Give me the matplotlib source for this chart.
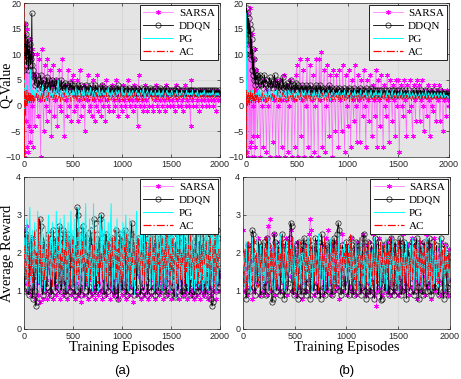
import matplotlib.pyplot as plt
import numpy as np

# episode grids: the Q-value panels are sampled more densely in the first 100 episodes
ep_top = np.r_[np.arange(0, 100, 5), np.arange(100, 2001, 10)]
ep_bot = np.arange(0, 2001, 10)

series_names = ["SARSA", "DDQN", "PG", "AC"]

# ---- (a) Q-value ----
sarsa_q_a = [-10, 14, -9, 16, -3, 12, -8, 15, 2, -9, 10, -4, 13, -7, 9, -5, 11, 0, -8, 10,
             6, -4, 2, 10, -2, 9, 1, -10, 11, 3, -5, 8, 0, -3, 9, 2, -1, 7, -6, 4,
             8, -2, 1, 5, -4, 3, 7, 0, -1, 9, 2, -6, 4, 1, -2, 7, 0, 3, -3, 5,
             6, -1, 2, 0, 5, -3, 1, 7, -2, 3, 0, 4, -5, 2, 1, 6, -1, 0, 3, -2,
             5, 1, -3, 2, 0, 6, -1, 3, 1, -2, 4, 0, 2, -3, 5, 1, 0, -1, 3, 2,
             4, -1, 1, 0, 5, 2, -2, 1, 3, 0, -1, 4, 1, 0, 2, -2, 5, 1, 0, 3,
             1, -1, 4, 0, 2, 1, -4, 6, 0, 2, 1, -1, 3, 0, 4, 1, -1, 2, 0, 3,
             2, 0, -1, 3, 1, 4, 0, 2, -1, 1, 3, 0, 2, 1, -1, 4, 0, 2, 1, 0,
             3, 1, 0, 2, -1, 4, 1, 0, 2, 3, 0, 1, -1, 2, 4, 0, 1, 3, 0, 2,
             -4, 5, 1, 0, 2, 3, 0, 1, 2, -1, 3, 1, 0, 2, 1, 3, 0, 2, 1, 0,
             2, 1, 3, 0, 1, 2, -1, 3, 1, 2, 1]
ddqn_q_a = [7, 11, 16, 9, 14, 8, 12, 10, 13, 7, 11, 9, 12, 8, 10, 9, 18, 8, 7, 6,
            5.5, 4, 6, 4.5, 3.5, 5, 4, 6, 3.5, 4.5, 5, 3, 4, 5.5, 3.5, 4, 5, 3, 4.5, 5,
            3.5, 4.5, 3, 5, 4, 3, 4.5, 3.5, 5, 3, 4, 3.5, 4.5, 3, 4, 3.5, 3, 4.5, 3.5, 4,
            3, 4, 2.5, 3.5, 3, 4, 2.5, 3.5, 4, 3, 2.5, 3.5, 3, 4, 3, 2.5, 3.5, 3, 4, 2.5,
            3.5, 3, 2.5, 4, 3, 3.5, 2.5, 3, 3.5, 2.5, 4, 3, 2.5, 3.5, 3, 2.5, 3, 3.5, 2.5, 3,
            3.5, 2.5, 3, 3.5, 2.5, 3, 4, 2.5, 3, 3.5, 2.5, 3, 2.5, 3.5, 3, 2.5, 3, 3.5, 2.5, 3,
            2.5, 3.5, 3, 2.5, 3, 3.5, 2.5, 3, 2.5, 3.5, 3, 2.5, 3, 2.5, 3.5, 3, 2.5, 3, 2.5, 3.5,
            3, 2.5, 3, 2.5, 3.5, 2.5, 3, 2.5, 3, 3.5, 2.5, 3, 2.5, 3, 2.5, 3.5, 3, 2.5, 3, 2.5,
            3, 2.5, 3, 2.5, 3, 2.5, 3.5, 2.5, 3, 2.5, 3, 2.5, 3, 2.5, 2.5, 3, 2.5, 3, 2.5, 3,
            2.5, 3, 2.5, 3, 2.5, 3, 2.5, 2.5, 3, 2.5, 3, 2.5, 3, 2.5, 3, 2.5, 3, 2.5, 3, 2.5,
            3, 2.5, 3, 2.5, 3, 2.5, 3, 2.5, 2.5, 3, 2.5]
pg_q_a = [3, -1, 5, 1, 4, 0, 3, 1, 2, 0.5, 2, 1, 3, 4, 7, 0.5, 3, 1, 3, 1,
          3, 1.5, 2.5, 3.5, 1, 2, 3, 1.5, 2.5, 4, 1.5, 2, 3, 1, 2.5, 3.5, 1.5, 2, 3, 1.5,
          2.5, 3, 1.5, 2, 3.5, 5, 1.5, 2.5, 3, 2, 1.5, 3, 2.5, 2, 3.5, 1.5, 2.5, 3, 2, 1.5,
          3, 2, 2.5, 3.5, 1.5, 2, 3, 2.5, 1.5, 3, 2, 3.5, 2, 1.5, 2.5, 3, 2, 2.5, 3.5, 1.5,
          2.5, 3, 2, 1.5, 3, 2.5, 2, 3.5, 1.5, 2.5, 3, 2, 2.5, 1.5, 3, 2, 3.5, 2, 2.5, 1.5,
          3, 2, 2.5, 1.5, 3, 2, 2.5, 3, 1.5, 2, 3.5, 2, 2.5, 1.5, 3, 2, 2.5, 2, 3, 1.5,
          2.5, 3, 2, 1.5, 2.5, 3, 2, 2.5, 1.5, 3, 2, 2.5, 3.5, 1.5, 2, 2.5, 3, 2, 1.5, 2.5,
          3, 2, 2.5, 1.5, 3, 2, 2.5, 2, 3, 1.5, 2.5, 2, 3, 2, 1.5, 2.5, 3, 2, 2.5, 1.5,
          2.5, 3, 2, 1.5, 2.5, 2, 3, 2, 1.5, 2.5, 2, 3, 2, 2.5, 1.5, 2, 3, 2, 2.5, 2,
          2.5, 2, 3, 1.5, 2, 2.5, 2, 3, 2, 1.5, 2.5, 2, 2.5, 2, 3, 2, 1.5, 2.5, 2, 2.5,
          2, 2.5, 2, 3, 2, 1.5, 2.5, 2, 2.5, 2, 2]
ac_q_a = [20, -10, 3, -2, 2, 0, 3, 0, 2, 1, 2.5, 0.5, 2, 1, 2.5, 0.5, 2, 1, 2, 0.5,
          2, 0.8, 1.5, 2.5, 1, 2, 0.7, 1.5, 2.5, 1, 3, 0.8, 1.5, 2, 1, 2.5, 0.7, 1.5, 2, 1,
          1.5, 2.5, 0.8, 2, 1, 1.5, 2.5, 0.7, 2, 1.5, 1, 2.5, 0.8, 2, 1.5, 1, 2, 2.5, 0.8, 1.5,
          2, 1, 1.5, 2.5, 0.8, 2, 1.5, 1, 2.5, 1.5, 0.8, 2, 1, 2.5, 1.5, 1, 2, 0.8, 1.5, 2.5,
          1, 2, 1.5, 0.8, 2.5, 1.5, 1, 2, 1.5, 2.5, 1, 1.5, 2, 0.8, 2.5, 1.5, 1, 2, 1.5, 1,
          2, 1.5, 1, 2.5, 1.5, 1, 2, 1.5, 0.8, 2.5, 1.5, 1, 2, 1.5, 1, 2.5, 1.5, 1, 2, 1.5,
          1, 2, 1.5, 2.5, 1, 1.5, 2, 1, 1.5, 2.5, 1.5, 1, 2, 1.5, 1, 2, 2.5, 1.2, 1.5, 2,
          1.5, 1, 2, 1.5, 2.5, 1.2, 1.5, 2, 1, 1.5, 2, 1.5, 1.2, 2.5, 1.5, 1, 2, 1.5, 1.2, 2,
          1.5, 2, 1.2, 1.5, 2.5, 1.5, 1.2, 2, 1.5, 1.2, 2, 1.5, 2.5, 1.2, 1.5, 2, 1.2, 1.5, 2, 1.5,
          1.2, 2, 1.5, 1.2, 2.2, 1.5, 1.3, 2, 1.5, 1.2, 2, 1.5, 1.3, 2.2, 1.5, 1.2, 2, 1.5, 1.3, 2,
          1.5, 1.3, 2, 1.5, 1.3, 2, 1.5, 1.4, 1.8, 1.5, 1.6]

# ---- (b) Q-value ----
sarsa_q_b = [-10, 18, -9, 15, -10, 12, 2, -8, 19, -7, 10, -10, 14, 0, -6, 9, -10, 11, -8, 7,
             3, -6, 1, 4, -10, 2, 0, -8, 5, 1, -9, 3, 0, -10, 4, 2, -7, 1, 5, -10,
             4, 0, -10, 5, 1, -8, 2, 6, -10, 1, 4, -9, 0, 5, 2, -10, 3, 1, -8, 6,
             8, -10, 2, 9, -6, 1, 7, -10, 3, 0, 9, -8, 2, 8, -10, 1, 6, -9, 0, 9,
             2, -10, 9, 1, 10.5, -8, 3, 7, -9, 0, 8, 2, -6, 6, 1, -10, 7, 2, -5, 6,
             3, -8, 7, 1, -5, 8, 2, -9, 6, 0, -4, 7, 2, -8, 5, 1, -3, 8, 0, -7,
             6, 1, -7, 5, 2, -2, 7, 0, -8, 5, 1, -3, 6, 2, -6, 4, 1, -2, 7, -8,
             5, 1, -4, 6, 2, -8, 4, 0, -2, 6, 1, -7, 5, 2, -3, 4, 1, -6, 5, 0,
             5, -9, 2, 4, 0, -2, 5, 1, -6, 4, 2, -1, 5, 0, -6, 4, 1, -3, 5, 2,
             4, -3, 1, 5, 0, -5, 3, 2, -2, 4, 1, -6, 3, 0, -1, 4, 2, -3, 3, 1,
             4, -3, 2, 3, -5, 1, 2, -2, 3, 1, 0]
ddqn_q_b = [10, 19, 15, 18, 12, 17, 14, 16, 10, 15, 9, 13, 7, 11, 6, 9, 5, 7, 4, 6,
            5, 6, 4, 5.5, 6, 4, 5, 3.5, 6, 4.5, 5, 4, 3.5, 5.5, 4, 5, 3.5, 4.5, 6, 4,
            3.5, 5, 3, 4.5, 4, 3, 5.5, 3.5, 4, 3, 4.5, 3.5, 3, 4, 5, 3, 3.5, 4, 3, 4.5,
            3, 4, 2.5, 3.5, 3, 4, 2.5, 3.5, 3, 4, 3, 2.5, 3.5, 4, 3, 2.5, 3, 3.5, 2.5, 4,
            2.5, 3.5, 3, 4, 2.5, 3, 3.5, 2.5, 3, 3.5, 2.5, 3, 4, 2.5, 3, 3.5, 2.5, 3, 2.5, 3.5,
            2.5, 3, 3.5, 2, 3, 2.5, 3.5, 2.5, 3, 2, 3, 3.5, 2.5, 3, 2, 2.5, 3.5, 2.5, 3, 2.5,
            3, 2.5, 3.5, 2, 3, 2.5, 3, 2.5, 3.5, 2, 2.5, 3, 2.5, 3.5, 2, 3, 2.5, 3, 2, 3,
            2.5, 3, 2, 3, 2.5, 2, 3, 2.5, 3, 2, 2.5, 3, 2, 2.5, 3, 2, 3, 2.5, 2, 3,
            2, 3, 2.5, 2, 3, 2.5, 2, 3, 2.5, 2, 2.5, 3, 2, 2.5, 2, 3, 2.5, 2, 3, 2.5,
            2, 2.5, 3, 2, 2.5, 2, 3, 2, 2.5, 2, 3, 2.5, 2, 2.5, 2, 3, 2, 2.5, 2, 2.5,
            2, 3, 2, 2.5, 2, 2.5, 2, 2.5, 2, 2.5, 2]
pg_q_b = [18, 2, 5, 1, 3, 0.5, 2.5, 1, 3, 1, 2.5, 0.5, 3, 1, 2.5, 1, 3, 1, 2.5, 1,
          2.5, 1, 3, 1.5, 2, 3, 1, 2.5, 1.5, 3, 2, 1, 2.5, 3.5, 1.5, 2, 1, 3, 2.5, 1.5,
          3, 1.5, 2, 2.5, 1, 3, 2, 1.5, 2.5, 3, 1, 2, 3, 1.5, 2.5, 1, 3, 2, 1.5, 2.5,
          2, 3, 1.5, 2.5, 1, 3, 2, 1.5, 3, 2.5, 1, 2, 3, 1.5, 2, 2.5, 1, 3, 1.5, 2,
          2.5, 1.5, 3, 2, 1, 2.5, 3, 1.5, 2, 2.5, 1.5, 3, 2, 1, 2.5, 2, 3, 1.5, 2, 2.5,
          1.5, 2.5, 3, 2, 1.5, 2.5, 1, 3, 2, 1.5, 2.5, 2, 3, 1.5, 2, 2.5, 1.5, 3, 2, 1.5,
          2.5, 2, 1.5, 3, 2, 1.5, 2.5, 2, 3, 1.5, 2, 2.5, 1.5, 3, 2, 1.5, 2.5, 2, 3, 1.5,
          2, 2.5, 1.5, 3, 2, 1.5, 2.5, 2, 1.5, 3, 2, 2.5, 1.5, 2, 3, 1.5, 2, 2.5, 1.5, 2,
          2.5, 1.5, 2, 3, 1.5, 2, 2.5, 1.5, 2, 2.5, 1.5, 3, 2, 1.5, 2.5, 2, 1.5, 2.5, 2, 1.5,
          2, 2.5, 1.5, 2, 2.5, 1.5, 2, 3, 1.5, 2, 2.5, 1.5, 2, 2.5, 1.5, 2, 2.5, 1.5, 2, 2.5,
          1.5, 2, 2.5, 1.5, 2, 2.5, 1.5, 2, 2, 1.5, 1.8]
ac_q_b = [-10, 3, 0, 2, 0.5, 2.5, 0, 2, 1, 3, 0.5, 2, 1, 2.5, 0.5, 2, 1, 3.5, 0.5, 2,
          1, 2.5, 0.5, 2, 1.5, 0.8, 2.5, 1, 2, 1.5, 0.5, 3, 1, 2, 0.8, 1.5, 2.5, 1, 2, 0.7,
          1.5, 2.5, 0.8, 2, 1, 1.5, 2.5, 0.7, 2, 1.5, 1, 2.5, 0.8, 1.5, 2, 1, 2.5, 0.8, 1.5, 2,
          0.8, 2, 1.5, 1, 2.5, 0.8, 1.5, 2, 1, 2.5, 0.8, 1.5, 2, 1, 2.5, 1.5, 0.8, 2, 1, 1.5,
          2.5, 1, 1.5, 2, 0.8, 2.5, 1.5, 1, 2, 1.5, 0.8, 2.5, 1, 1.5, 2, 1, 2.5, 1.5, 0.8, 2,
          1.5, 1, 2.5, 1.5, 0.8, 2, 1.5, 1, 2.5, 1, 1.5, 2, 0.8, 2.5, 1.5, 1, 2, 1.5, 1, 2,
          1, 2, 1.5, 1, 2.5, 1.5, 1, 2, 1.2, 1.5, 2.5, 1, 1.5, 2, 1.2, 1.5, 2, 1, 1.5, 2,
          1.2, 2, 1.5, 1, 2, 1.5, 1.2, 2.5, 1, 1.5, 2, 1.2, 1.5, 2, 1, 1.5, 2, 1.2, 1.5, 2,
          1.5, 1.2, 2, 1.5, 1, 2, 1.5, 1.2, 2, 1.5, 1.2, 2, 1.5, 1, 1.8, 1.5, 1.2, 2, 1.5, 1.2,
          1.8, 1.5, 1.2, 2, 1.5, 1.2, 1.8, 1.5, 1.2, 2, 1.5, 1.2, 1.8, 1.5, 1.2, 1.8, 1.5, 1.2, 1.8, 1.5,
          1.2, 1.8, 1.5, 1.2, 1.6, 1.4, 1.2, 1.6, 1.4, 1.3, 1.4]

# ---- (a) average reward ----
sarsa_r_a = [1.9, 2.6, 1.2, 2.7, 1.0, 1.5, 2.3, 0.9, 1.3, 2.4, 1.1, 0.8, 2.0, 1.2, 0.9, 1.8, 0.7, 1.4, 2.1, 0.8,
             1.1, 1.9, 1.0, 0.8, 1.6, 2.2, 0.9, 1.3, 1.0, 2.0, 0.8, 1.2, 1.7, 0.9, 1.1, 2.1, 1.0, 0.8, 1.5, 1.9,
             0.9, 1.2, 2.0, 1.0, 0.8, 1.6, 1.1, 2.2, 0.9, 1.3, 1.0, 1.8, 0.8, 1.2, 2.1, 0.9, 1.4, 1.0, 0.7, 1.9,
             1.1, 0.9, 1.7, 1.2, 2.0, 0.8, 1.3, 1.0, 2.2, 0.9, 1.1, 1.8, 1.0, 0.8, 1.5, 2.1, 0.9, 1.2, 1.0, 1.9,
             0.8, 1.3, 2.0, 1.0, 0.9, 1.6, 1.2, 2.2, 0.8, 1.1, 1.0, 1.9, 0.9, 1.3, 2.1, 1.0, 0.8, 1.5, 1.1, 2.0,
             0.9, 1.2, 1.8, 1.0, 0.8, 2.1, 1.3, 0.9, 1.6, 1.1, 2.0, 0.7, 1.2, 1.0, 1.9, 0.9, 1.4, 2.2, 1.0, 0.8,
             1.5, 1.1, 2.0, 0.9, 1.2, 1.8, 1.0, 0.8, 2.1, 1.3, 0.9, 1.6, 1.1, 2.2, 0.8, 1.0, 1.9, 1.2, 0.9, 1.7,
             1.0, 2.0, 0.8, 1.3, 1.1, 2.1, 0.9, 1.5, 1.0, 1.8, 0.8, 1.2, 2.2, 1.0, 0.9, 1.6, 1.1, 2.0, 0.8, 1.3,
             1.0, 1.9, 0.9, 1.2, 2.1, 1.0, 0.8, 1.7, 1.1, 2.0, 0.9, 1.3, 1.0, 1.8, 0.8, 1.2, 2.2, 0.9, 1.1, 1.9,
             0.8, 1.4, 1.0, 2.0, 0.9, 1.2, 1.7, 1.0, 0.8, 2.1, 1.1, 0.9, 1.6, 1.3, 1.0, 2.0, 0.8, 1.2, 1.5, 1.0,
             1.4]
ddqn_r_a = [1.4, 1.0, 2.5, 2.2, 1.0, 0.9, 2.2, 2.4, 1.1, 0.8, 1.9, 1.0, 0.6, 0.7, 1.5, 2.6, 2.9, 2.7, 1.2, 0.9,
            1.0, 2.3, 2.0, 1.1, 1.2, 2.5, 2.2, 1.0, 0.9, 2.4, 2.6, 1.3, 1.0, 2.2, 2.0, 1.1, 2.7, 2.4, 1.0, 1.2,
            2.6, 2.3, 1.0, 0.9, 2.1, 2.5, 1.2, 1.0, 2.4, 2.0, 1.1, 2.2, 0.9, 1.0, 3.2, 3.0, 2.6, 1.1, 0.9, 2.3,
            2.7, 2.5, 1.0, 1.2, 2.4, 2.2, 0.9, 1.1, 2.6, 2.3, 1.0, 2.9, 2.8, 1.2, 1.0, 2.5, 2.2, 1.1, 2.9, 3.0,
            2.4, 1.0, 0.9, 2.2, 2.5, 1.2, 1.0, 2.3, 2.0, 1.1, 2.4, 2.2, 1.0, 0.9, 2.6, 2.3, 0.8, 1.1, 2.5, 2.2,
            1.2, 1.0, 2.3, 2.6, 1.1, 0.9, 2.4, 2.1, 1.0, 2.5, 2.8, 1.2, 0.9, 2.2, 2.0, 1.0, 2.4, 2.3, 1.1, 0.9,
            2.3, 2.1, 1.0, 1.2, 2.5, 2.2, 0.9, 1.1, 2.4, 2.0, 1.0, 2.2, 2.5, 1.1, 0.9, 2.3, 2.1, 1.0, 1.2, 2.4,
            2.6, 1.0, 1.1, 2.3, 2.0, 0.9, 1.2, 2.5, 2.2, 1.0, 2.4, 2.1, 1.1, 0.9, 0.85, 2.2, 2.5, 1.0, 1.2, 2.3,
            2.4, 1.0, 0.9, 2.6, 2.3, 1.1, 1.0, 2.2, 2.5, 0.9, 1.2, 2.4, 2.1, 1.0, 0.9, 2.3, 2.6, 1.1, 1.0, 2.2,
            2.5, 1.0, 1.2, 2.3, 2.0, 0.9, 1.1, 2.4, 2.2, 1.0, 2.5, 0.8, 0.6, 0.7, 2.3, 2.1, 1.0, 2.6, 2.4, 1.1,
            1.6]
pg_r_a = [1.8, 2.4, 1.2, 2.9, 1.0, 2.2, 3.2, 1.3, 1.1, 2.6, 1.5, 2.8, 1.0, 2.0, 3.1, 1.2, 2.4, 1.1, 2.9, 1.3,
          2.5, 1.0, 2.7, 1.4, 2.2, 3.0, 1.1, 2.4, 1.3, 2.8, 1.0, 2.3, 1.5, 3.1, 1.2, 2.6, 1.0, 2.9, 1.4, 2.2,
          1.1, 3.0, 1.3, 2.5, 1.0, 2.8, 1.2, 2.3, 3.1, 1.1, 2.6, 1.4, 2.9, 1.0, 2.4, 1.3, 3.2, 1.1, 2.5, 1.2,
          2.8, 1.0, 2.4, 3.3, 1.2, 2.6, 1.1, 2.9, 1.3, 2.2, 1.0, 3.3, 1.2, 2.5, 1.4, 2.8, 1.0, 2.4, 3.0, 1.1,
          2.6, 1.3, 2.9, 1.0, 2.3, 1.2, 2.8, 1.1, 2.5, 3.3, 1.0, 2.4, 1.3, 2.7, 1.1, 2.9, 1.2, 2.3, 1.0, 2.6,
          1.4, 2.8, 1.1, 2.5, 3.0, 1.2, 2.6, 1.0, 2.9, 1.3, 2.4, 1.1, 2.7, 0.9, 2.5, 3.1, 1.2, 2.4, 1.0, 2.8,
          1.3, 2.6, 1.1, 2.9, 1.0, 2.4, 1.2, 2.8, 3.0, 1.1, 2.5, 1.3, 2.7, 1.0, 2.3, 1.2, 2.9, 1.1, 2.6, 1.4,
          2.8, 1.0, 2.5, 1.2, 3.0, 1.1, 2.4, 1.3, 2.9, 1.0, 2.6, 1.2, 2.8, 1.1, 2.3, 0.8, 2.7, 1.2, 2.9, 1.0,
          2.5, 1.3, 2.8, 1.1, 2.4, 3.0, 1.2, 2.6, 1.0, 2.9, 1.3, 2.5, 1.1, 2.8, 1.0, 2.4, 1.2, 2.7, 1.1, 2.9,
          1.3, 2.6, 1.0, 2.8, 1.2, 2.5, 1.1, 2.9, 1.0, 2.4, 1.3, 2.7, 1.1, 3.0, 1.2, 2.6, 1.0, 2.8, 1.2, 2.5,
          1.9]
ac_r_a = [1.6, 2.2, 1.3, 1.8, 2.5, 1.1, 2.0, 1.4, 2.3, 1.2, 1.7, 2.6, 1.3, 2.0, 1.5, 2.9, 1.2, 2.2, 1.0, 1.9,
          2.4, 1.3, 1.8, 2.1, 1.2, 2.5, 1.4, 1.9, 2.2, 1.1, 2.0, 1.6, 2.4, 1.3, 1.8, 2.6, 1.2, 2.0, 1.5, 2.3,
          1.2, 2.1, 1.7, 2.5, 1.3, 1.9, 2.3, 1.1, 2.0, 1.6, 2.4, 1.2, 1.8, 2.2, 1.4, 2.6, 1.3, 1.9, 2.1, 1.2,
          2.3, 1.5, 1.9, 2.5, 1.2, 2.0, 1.6, 2.4, 1.3, 1.8, 2.2, 1.1, 2.6, 1.4, 1.9, 2.1, 1.2, 2.4, 1.6, 2.0,
          1.3, 2.2, 1.8, 2.5, 1.2, 1.9, 2.3, 1.4, 2.0, 1.1, 2.4, 1.6, 1.9, 2.6, 1.3, 2.1, 1.5, 2.3, 1.2, 2.0,
          2.4, 1.3, 1.8, 2.2, 1.1, 2.5, 1.5, 1.9, 2.3, 1.2, 2.0, 1.7, 2.6, 1.3, 1.8, 2.2, 1.4, 2.4, 1.2, 1.9,
          2.1, 1.4, 2.5, 1.2, 1.8, 2.3, 1.3, 2.0, 1.6, 2.4, 1.1, 1.9, 2.2, 1.5, 2.6, 1.2, 2.0, 1.7, 2.3, 1.3,
          1.9, 2.4, 1.2, 2.1, 1.6, 2.5, 1.3, 1.8, 2.2, 1.1, 2.0, 1.5, 2.4, 1.3, 1.9, 2.3, 1.2, 2.1, 1.6, 2.5,
          1.3, 2.0, 1.7, 2.3, 1.2, 2.4, 1.5, 1.9, 2.2, 1.1, 2.6, 1.4, 1.8, 2.1, 1.3, 2.4, 1.6, 2.0, 1.2, 2.3,
          1.5, 2.2, 1.3, 2.5, 1.7, 1.9, 2.3, 1.2, 2.0, 1.6, 2.4, 1.3, 1.8, 2.2, 1.1, 2.5, 1.4, 2.0, 1.6, 2.1,
          1.7]

# ---- (b) average reward ----
sarsa_r_b = [2.6, 1.0, 1.6, 2.0, 0.9, 2.2, 1.3, 1.1, 1.8, 0.8, 2.3, 1.0, 1.5, 1.9, 1.2, 2.4, 0.9, 1.4, 2.1, 1.0,
             2.0, 1.2, 2.4, 0.9, 2.7, 1.6, 2.9, 1.0, 2.1, 1.3, 2.5, 0.9, 1.7, 2.0, 1.1, 2.3, 1.0, 1.8, 2.2, 1.2,
             1.9, 1.1, 2.4, 0.9, 2.0, 1.4, 2.6, 1.0, 2.2, 1.2, 1.8, 0.9, 2.3, 1.1, 2.0, 1.5, 2.1, 0.8, 1.9, 1.2,
             2.2, 1.0, 2.0, 1.3, 2.5, 2.9, 2.6, 1.1, 2.1, 0.9, 1.8, 1.2, 2.3, 1.0, 2.0, 1.4, 2.2, 0.9, 1.9, 1.1,
             2.4, 1.0, 2.6, 1.2, 2.0, 0.9, 2.2, 1.3, 1.8, 1.0, 2.3, 1.1, 2.1, 0.8, 2.0, 1.4, 2.5, 1.0, 1.9, 1.2,
             2.2, 0.9, 2.0, 1.1, 2.4, 1.0, 1.8, 1.3, 2.1, 0.9, 2.3, 1.2, 2.0, 1.0, 1.9, 1.4, 2.5, 1.1, 2.2, 0.9,
             2.0, 1.2, 2.3, 1.0, 2.1, 1.3, 2.5, 0.9, 2.2, 0.6, 1.0, 2.4, 1.1, 2.0, 0.9, 2.2, 1.3, 1.9, 1.0, 2.3,
             1.1, 2.1, 0.9, 2.4, 1.2, 2.0, 1.0, 2.2, 1.4, 1.8, 0.9, 2.3, 1.1, 2.0, 1.3, 2.5, 1.0, 1.9, 1.2, 2.2,
             0.9, 2.0, 1.1, 2.4, 1.0, 2.2, 1.3, 1.9, 0.8, 2.1, 1.2, 2.3, 1.0, 2.0, 1.4, 2.2, 0.9, 2.5, 1.1, 1.9,
             1.2, 2.2, 0.8, 2.0, 1.1, 2.4, 1.0, 1.9, 1.3, 2.1, 0.9, 2.3, 1.2, 2.0, 1.0, 2.2, 1.4, 1.9, 0.9, 2.1,
             1.3]
ddqn_r_b = [1.8, 1.2, 2.0, 0.8, 1.0, 2.2, 1.9, 1.0, 2.1, 2.6, 2.5, 1.1, 0.9, 2.0, 1.2, 2.3, 2.1, 0.9, 1.0, 2.2,
            2.3, 1.1, 0.9, 2.4, 2.2, 1.0, 1.2, 2.0, 0.7, 0.8, 2.5, 2.3, 1.0, 1.1, 2.2, 1.9, 0.9, 2.1, 2.5, 1.0,
            0.8, 2.3, 2.1, 1.0, 1.2, 2.4, 2.8, 2.7, 1.0, 0.9, 2.2, 2.0, 1.1, 0.8, 2.3, 2.1, 0.9, 1.0, 2.2, 2.4,
            1.0, 0.9, 2.1, 2.3, 1.2, 0.8, 2.0, 2.2, 1.0, 1.1, 2.4, 2.1, 0.9, 2.3, 1.0, 0.8, 2.5, 2.2, 1.1, 0.9,
            2.2, 2.0, 1.0, 1.2, 2.3, 2.1, 0.9, 1.0, 2.4, 2.2, 1.1, 2.5, 2.8, 2.6, 1.0, 0.9, 2.2, 2.0, 1.2, 1.0,
            2.3, 2.1, 0.9, 1.1, 2.4, 2.2, 1.0, 0.9, 2.1, 2.3, 1.2, 1.0, 2.2, 2.0, 0.9, 1.1, 2.4, 2.5, 1.0, 0.8,
            2.1, 2.3, 1.0, 0.9, 2.2, 2.0, 1.1, 0.8, 2.4, 2.1, 1.0, 2.3, 1.2, 0.75, 0.8, 2.2, 2.0, 1.0, 1.1, 2.3,
            2.1, 0.9, 1.0, 2.4, 2.2, 1.1, 0.9, 2.3, 2.0, 1.0, 1.2, 2.2, 2.4, 0.9, 1.0, 2.1, 2.3, 1.1, 0.8, 2.2,
            2.0, 1.0, 1.2, 2.3, 2.1, 0.9, 1.0, 2.2, 2.4, 1.1, 0.8, 2.0, 2.2, 1.0, 0.9, 2.3, 2.1, 1.2, 1.0, 2.2,
            2.4, 1.0, 0.9, 2.1, 2.3, 1.1, 1.0, 2.2, 2.0, 0.9, 1.2, 2.4, 2.1, 1.0, 0.8, 2.2, 2.0, 1.1, 0.9, 1.9,
            1.2]
pg_r_b = [1.5, 2.0, 1.1, 2.3, 1.6, 1.2, 2.1, 1.0, 1.8, 2.4, 1.3, 2.0, 1.1, 1.7, 2.5, 1.2, 1.9, 2.2, 1.0, 1.6,
          2.3, 1.2, 1.8, 2.1, 1.0, 2.4, 1.4, 1.9, 1.1, 2.2, 1.6, 1.0, 2.3, 1.3, 2.0, 1.1, 2.5, 1.5, 1.2, 2.1,
          1.0, 1.8, 2.3, 1.2, 2.0, 1.4, 2.2, 1.1, 1.7, 2.4, 1.3, 1.9, 1.0, 2.1, 1.5, 2.3, 1.2, 1.8, 2.0, 1.1,
          2.2, 1.3, 1.9, 2.4, 1.1, 1.6, 2.1, 1.0, 2.3, 1.4, 1.8, 2.0, 1.2, 2.5, 1.1, 1.7, 2.2, 1.3, 1.9, 1.0,
          2.1, 1.5, 2.3, 1.1, 1.8, 2.4, 1.2, 2.0, 1.0, 1.7, 2.2, 1.3, 1.9, 2.5, 1.1, 1.6, 2.1, 1.2, 2.3, 1.4,
          1.9, 1.0, 2.2, 1.3, 2.4, 1.1, 1.8, 2.0, 1.2, 2.3, 1.5, 1.0, 2.1, 1.7, 2.4, 1.2, 1.9, 1.1, 2.2, 1.4,
          2.0, 1.2, 2.3, 1.1, 1.7, 2.1, 1.3, 2.4, 1.0, 1.8, 2.2, 1.4, 1.9, 1.1, 2.3, 1.5, 2.0, 1.2, 2.4, 1.0,
          1.8, 2.2, 1.3, 2.0, 1.1, 2.4, 1.6, 1.9, 1.2, 2.3, 1.0, 2.1, 1.4, 1.8, 2.2, 1.1, 2.0, 1.5, 2.3, 1.2,
          1.9, 1.1, 2.2, 1.4, 2.4, 1.0, 1.8, 2.1, 1.3, 2.3, 1.2, 1.7, 2.0, 1.1, 2.2, 1.5, 1.9, 2.4, 1.2, 2.0,
          1.3, 2.1, 1.0, 1.8, 2.3, 1.2, 2.0, 1.4, 2.2, 1.1, 1.9, 2.4, 1.3, 1.7, 2.1, 1.0, 2.2, 1.5, 1.9, 1.2,
          1.6]
ac_r_b = [1.7, 1.2, 2.1, 1.5, 1.0, 2.3, 1.3, 1.9, 2.2, 1.1, 1.8, 2.4, 1.2, 2.0, 1.4, 1.1, 2.2, 1.6, 2.0, 1.3,
          1.1, 2.1, 1.6, 2.4, 1.2, 1.9, 1.0, 2.2, 1.5, 2.0, 1.3, 2.3, 1.1, 1.8, 2.1, 1.4, 2.0, 1.2, 2.4, 1.6,
          2.0, 1.3, 1.8, 1.1, 2.3, 1.5, 2.1, 1.2, 2.4, 1.6, 1.0, 2.0, 1.4, 2.2, 1.1, 1.9, 2.3, 1.3, 1.7, 2.1,
          1.2, 2.2, 1.5, 1.9, 1.1, 2.4, 1.3, 2.0, 1.7, 1.2, 2.3, 1.4, 2.1, 1.0, 1.8, 2.2, 1.3, 2.0, 1.5, 2.4,
          1.1, 1.9, 2.2, 1.4, 2.0, 1.2, 2.3, 1.6, 1.0, 2.1, 1.5, 2.4, 1.2, 1.8, 2.2, 1.3, 1.9, 1.1, 2.0, 1.6,
          2.3, 1.2, 2.0, 1.5, 2.5, 1.1, 1.8, 2.2, 1.3, 1.9, 1.0, 2.1, 1.6, 2.4, 1.2, 2.0, 1.4, 1.8, 2.2, 1.1,
          1.9, 2.3, 1.3, 2.0, 1.5, 1.1, 2.2, 1.4, 2.4, 1.2, 1.8, 2.1, 1.0, 2.3, 1.6, 1.9, 1.2, 2.2, 1.4, 2.0,
          1.3, 2.1, 1.7, 2.4, 1.1, 1.9, 2.2, 1.2, 2.0, 1.5, 2.3, 1.0, 1.8, 2.1, 1.4, 2.4, 1.2, 1.9, 1.6, 2.2,
          1.1, 2.0, 1.5, 2.3, 1.3, 1.8, 2.2, 1.0, 2.1, 1.6, 1.9, 2.4, 1.2, 2.0, 1.4, 2.2, 1.1, 1.8, 2.3, 1.3,
          2.0, 1.4, 2.2, 1.1, 1.9, 2.3, 1.3, 2.0, 1.6, 1.2, 2.4, 1.5, 1.8, 2.1, 1.0, 2.2, 1.4, 1.9, 1.2, 2.0,
          1.6]

SERIF = "Liberation Serif"
SANS = "Liberation Sans"

plt.rcParams["font.family"] = SANS
plt.rcParams["axes.linewidth"] = 0.5


def draw_panel(ax, x, sarsa, ddqn, pg, ac, ylim, yticks):
    """Draw the four learning curves in MATLAB style on one axes."""
    ax.set_facecolor("#e4e4e4")
    ax.plot(x, sarsa, color="#ff66ff", lw=0.5, marker=(6, 2, 0), ms=3.5,
            mec="#ff00ff", mew=0.5, label=series_names[0], zorder=2)
    ax.plot(x, ddqn, color="black", lw=0.6, marker="o", ms=3.8, mfc="none",
            mew=0.45, label=series_names[1], zorder=3)
    ax.plot(x, pg, color="#00ffff", lw=0.7, label=series_names[2], zorder=4)
    ax.plot(x, ac, color="red", lw=0.6, ls="-.", label=series_names[3], zorder=5)
    ax.set_xlim(0, 2000)
    ax.set_ylim(*ylim)
    ax.set_xticks([0, 500, 1000, 1500, 2000])
    ax.set_yticks(yticks)
    ax.grid(True, color="#cdcdcd", lw=0.4)
    ax.set_axisbelow(True)
    ax.tick_params(direction="in", length=2.5, width=0.5, labelsize=6.5,
                   top=True, right=True, pad=2, colors="#262626")
    for sp in ax.spines.values():
        sp.set_color("#262626")
    leg = ax.legend(loc="upper right", prop={"family": SERIF, "size": 8},
                    fancybox=False, framealpha=1, edgecolor="black",
                    borderaxespad=0.15, handlelength=2.7, labelspacing=0.3,
                    borderpad=0.3, handletextpad=0.5)
    leg.get_frame().set_linewidth(0.6)
    leg.get_lines()[3].set_linewidth(0.9)
    leg.set_zorder(10)


fig = plt.figure(figsize=(4.61, 3.79), dpi=100)
ax_qa = fig.add_axes([0.052, 0.586, 0.425, 0.406])
ax_qb = fig.add_axes([0.534, 0.586, 0.440, 0.406])
ax_ra = fig.add_axes([0.052, 0.132, 0.425, 0.401])
ax_rb = fig.add_axes([0.527, 0.132, 0.449, 0.401])

q_ticks = [-10, -5, 0, 5, 10, 15, 20]
r_ticks = [0, 1, 2, 3, 4]
draw_panel(ax_qa, ep_top, sarsa_q_a, ddqn_q_a, pg_q_a, ac_q_a, (-10, 20), q_ticks)
draw_panel(ax_qb, ep_top, sarsa_q_b, ddqn_q_b, pg_q_b, ac_q_b, (-10, 20), q_ticks)
draw_panel(ax_ra, ep_bot, sarsa_r_a, ddqn_r_a, pg_r_a, ac_r_a, (0, 4), r_ticks)
draw_panel(ax_rb, ep_bot, sarsa_r_b, ddqn_r_b, pg_r_b, ac_r_b, (0, 4), r_ticks)

# label anchor is the right edge of the rotated text
ax_qa.set_ylabel("Q-Value", family=SERIF, fontsize=10)
ax_qa.yaxis.set_label_coords(-0.056, 0.47)
ax_ra.set_ylabel("Average Reward", family=SERIF, fontsize=10.5)
ax_ra.yaxis.set_label_coords(-0.052, 0.5)
ax_ra.set_xlabel("Training Episodes", family=SERIF, fontsize=10.5, labelpad=0)
ax_rb.set_xlabel("Training Episodes", family=SERIF, fontsize=10.5, labelpad=0)

fig.text(0.265, 0.014, "(a)", ha="center", fontsize=9.5, family=SANS)
fig.text(0.750, 0.014, "(b)", ha="center", fontsize=9.5, family=SANS)

fig.savefig("out.png", dpi=100)
